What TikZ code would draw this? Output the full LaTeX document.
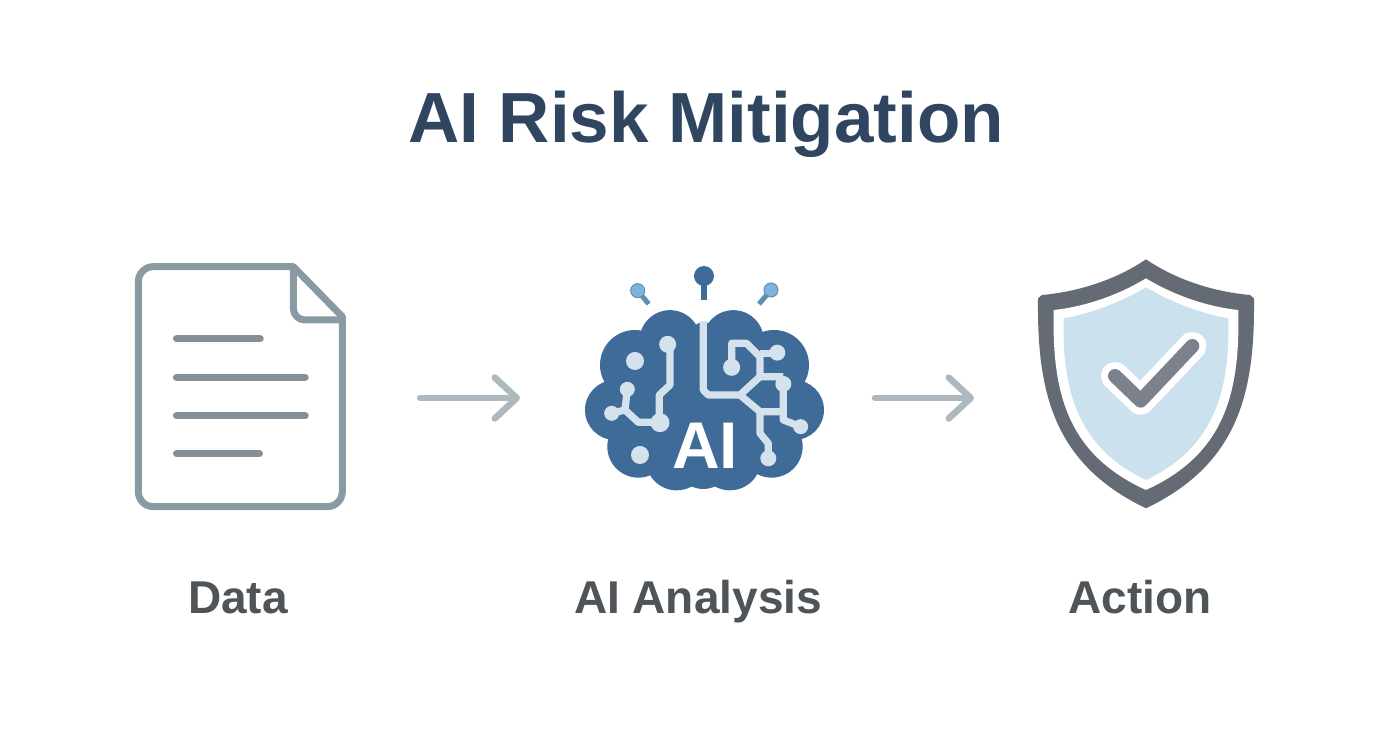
\documentclass[tikz,border=0pt]{standalone}
\usepackage{fontspec}
\setmainfont{Liberation Sans}
\usetikzlibrary{arrows.meta}
\definecolor{titlec}{HTML}{2F4560}
\definecolor{labelc}{HTML}{4F5459}
\definecolor{arrowc}{HTML}{ADB9BE}
\definecolor{docc}{HTML}{8A9AA3}
\definecolor{doclinec}{HTML}{858F97}
\definecolor{brainc}{HTML}{3F6B98}
\definecolor{circc}{HTML}{D3E2EC}
\definecolor{pinc}{HTML}{7FB3DC}
\definecolor{pinstem}{HTML}{5D8FB0}
\definecolor{shieldc}{HTML}{646B75}
\definecolor{shieldin}{HTML}{CBE2EE}
\definecolor{checkc}{HTML}{7B828C}
\tikzset{
  titletext/.style={font=\fontsize{71}{71}\selectfont\bfseries,text=titlec,inner sep=0pt,anchor=base},
  labeltext/.style={font=\fontsize{46}{46}\selectfont\bfseries,text=labelc,inner sep=0pt,anchor=base},
  flowarrow/.style={draw=arrowc,line width=6.5pt,line cap=round,-{Straight Barb[length=22pt,width=41pt,line width=6.5pt,round]}},
  docline/.style={draw=doclinec,line width=7.5pt,line cap=round},
  docedge/.style={draw=docc,line width=7pt,line join=round},
  wire/.style={draw=circc,line width=7.2pt,line join=round},
  dot/.style={fill=circc},
}
\begin{document}
\begin{tikzpicture}[x=1pt,y=-1pt]
\useasboundingbox (0,0) rectangle (1392,752);
\fill[white] (0,0) rectangle (1392,752);

\node[titletext] (title) at (706,142) {AI Risk Mitigation};

% document icon
\begin{scope}[shift={(120,250)},x=0.3333pt,y=-0.3333pt]
  \draw[docedge,fill=white] (100,50) -- (520,50) -- (667,200) -- (667,725)
     arc[start angle=0,end angle=90,radius=45] -- (100,770)
     arc[start angle=90,end angle=180,radius=45] -- (55,95)
     arc[start angle=180,end angle=270,radius=45] -- cycle;
  \draw[docedge] (520,50) -- (520,175) arc[start angle=180,end angle=90,radius=35] -- (667,210);
  \draw[docline] (170,266) -- (420,266);
  \draw[docline] (170,382) -- (555,382);
  \draw[docline] (170,497) -- (555,497);
  \draw[docline] (170,611) -- (418,611);
\end{scope}

% brain icon
\begin{scope}[shift={(570,250)},x=0.3333pt,y=-0.3333pt]
  \fill[brainc] (300,272) circle[radius=30.5pt] (490,272) circle[radius=30.5pt]
    (195,345) circle[radius=35pt] (612,345) circle[radius=35pt]
    (135,480) circle[radius=30pt] (672,480) circle[radius=30pt]
    (205,590) circle[radius=31pt] (605,590) circle[radius=31pt]
    (320,628) circle[radius=31pt] (480,628) circle[radius=31pt]
    (400,630) circle[radius=29pt];
  \fill[brainc] (230,300) -- (395,215) -- (405,215) -- (590,300) -- (690,480) -- (600,650) -- (210,650) -- (120,480) -- cycle;
  % pins
  \draw[draw=brainc,line width=6pt] (402,78) -- (402,150);
  \fill[brainc] (402,78) circle[radius=10pt];
  \draw[draw=pinstem,line width=5pt] (203,122) -- (236,162);
  \draw[draw=pinstem,line width=1pt,fill=pinc] (203,122) circle[radius=7pt];
  \draw[draw=pinstem,line width=5pt] (603,120) -- (567,162);
  \draw[draw=pinstem,line width=1pt,fill=pinc] (603,120) circle[radius=7pt];
  % left circuit
  \draw[wire] (300,283) -- (300,405) -- (268,435) -- (268,517) -- (205,517) -- (165,480) -- (125,490);
  \draw[wire] (172,418) -- (165,480);
  \fill[dot] (293,283) circle[radius=8.5pt] (270,518) circle[radius=9.5pt]
    (125,490) circle[radius=7.5pt] (172,418) circle[radius=7.5pt]
    (195,333) circle[radius=9pt] (210,615) circle[radius=9pt];
  % right circuit
  \draw[wire] (400,213) -- (400,420) -- (415,435) -- (510,435) -- (570,380) -- (640,380);
  \draw[wire] (570,380) -- (570,320) -- (530,280) -- (485,280) -- (485,350);
  \draw[wire] (570,310) -- (622,310);
  \draw[wire] (510,435) -- (570,485) -- (640,485);
  \draw[wire] (640,402) -- (640,510) -- (692,530);
  \draw[wire] (570,485) -- (570,550) -- (595,580) -- (595,625);
  \fill[dot] (640,402) circle[radius=8pt] (485,352) circle[radius=8.5pt]
    (622,308) circle[radius=8pt] (692,530) circle[radius=7.5pt] (595,625) circle[radius=8pt];
\end{scope}
\node[font=\fontsize{66}{66}\selectfont\bfseries,text=white,inner sep=0pt,anchor=base] (ailogo) at (705,468) {AI};

% shield icon
\begin{scope}[shift={(1020,250)},x=0.3333pt,y=-0.3333pt]
  \fill[shieldc] (378,28) .. controls (470,90) and (580,125) .. (690,135) -- (702,145)
     .. controls (705,420) and (660,640) .. (378,775)
     .. controls (96,640) and (51,420) .. (54,145) -- (66,135)
     .. controls (176,125) and (286,90) .. (378,28) -- cycle;
  \fill[white] (378,85) .. controls (460,135) and (560,170) .. (655,180)
     .. controls (660,420) and (620,610) .. (378,720)
     .. controls (136,610) and (96,420) .. (101,180)
     .. controls (196,170) and (296,135) .. (378,85) -- cycle;
  \fill[shieldin] (378,112) .. controls (450,155) and (540,190) .. (625,205)
     .. controls (630,410) and (590,590) .. (378,690)
     .. controls (166,590) and (126,410) .. (131,205)
     .. controls (216,190) and (306,155) .. (378,112) -- cycle;
  \draw[white,line width=28pt,line cap=round,line join=round] (285,378) -- (362,452) -- (517,288);
  \draw[checkc,line width=14pt,line cap=round,line join=round] (285,378) -- (362,452) -- (517,288);
\end{scope}

% labels
\node[labeltext] (data) at (238,613) {Data};
\node[labeltext] (analysis) at (698,613) {AI Analysis};
\node[labeltext] (action) at (1140,613) {Action};

% connectors
\coordinate (docout) at (420,398);
\coordinate (brainin) at (520,398);
\coordinate (brainout) at (875,398);
\coordinate (shieldinpt) at (974,398);
\draw[flowarrow] (docout) -- (brainin);
\draw[flowarrow] (brainout) -- (shieldinpt);
\end{tikzpicture}
\end{document}
